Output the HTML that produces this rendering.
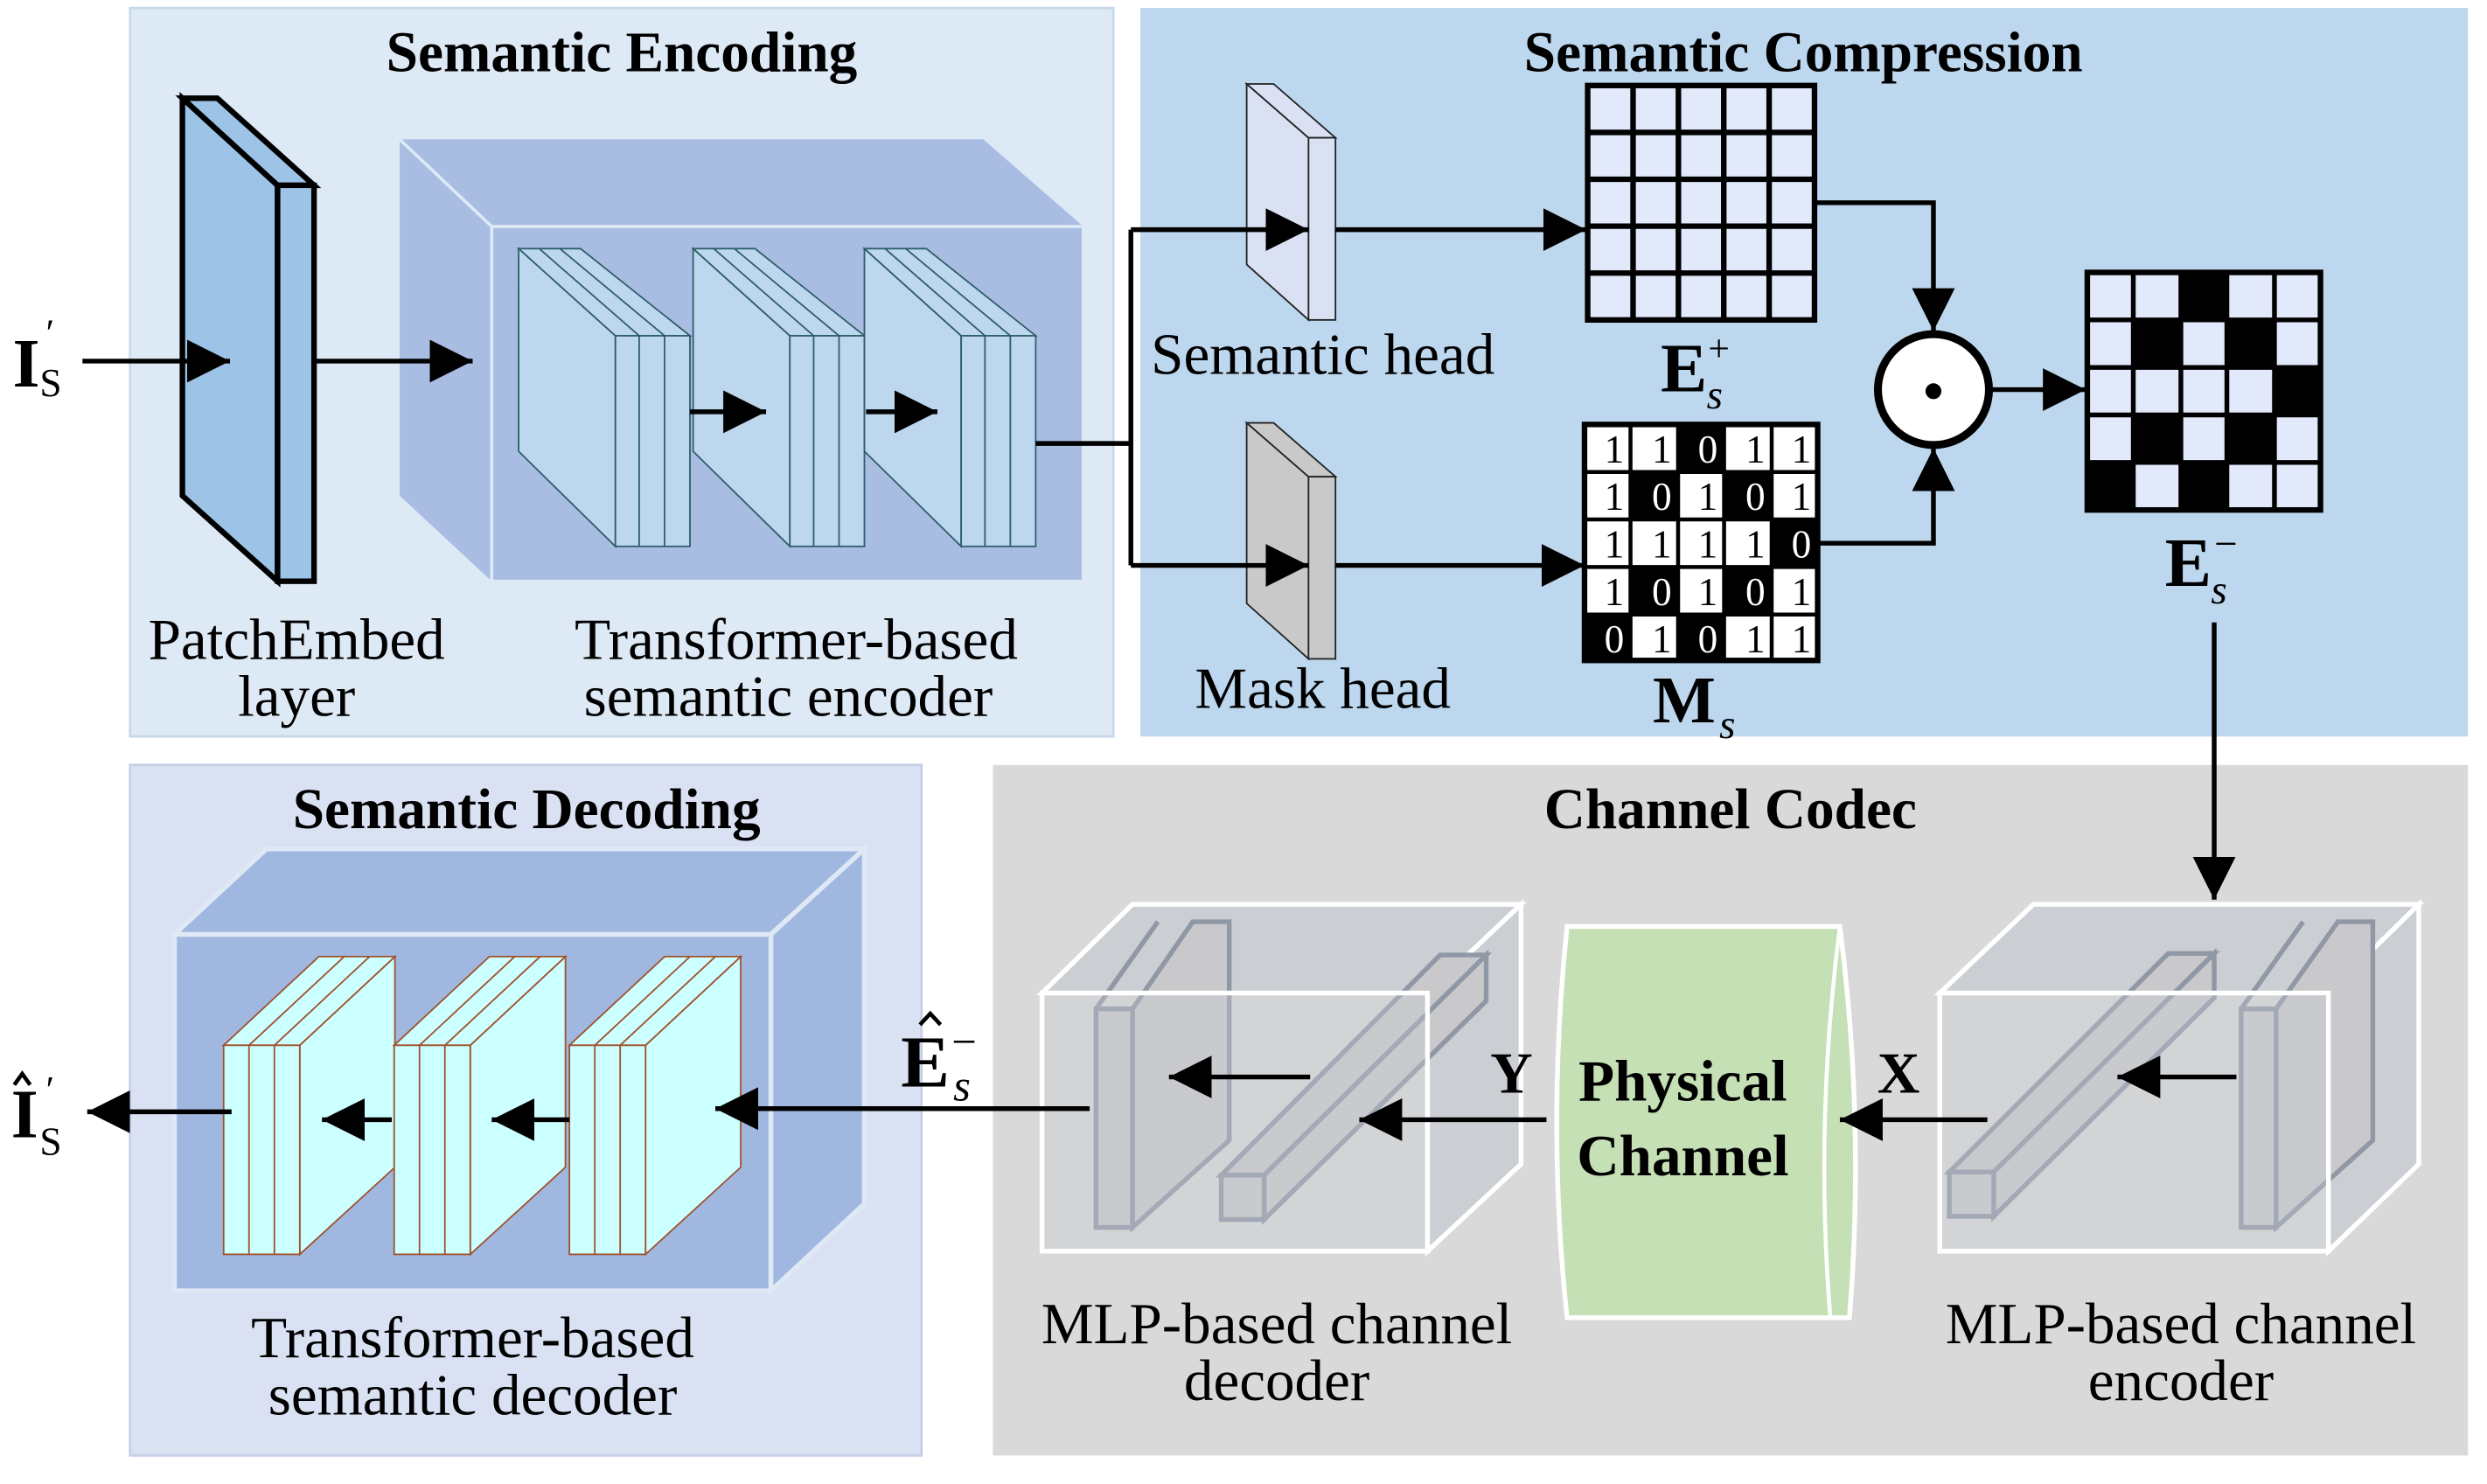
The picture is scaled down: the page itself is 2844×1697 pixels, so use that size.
<!DOCTYPE html>
<html><head><meta charset="utf-8"><style>
html,body{margin:0;padding:0;background:#fff;}
svg{display:block;}
text{font-family:"Liberation Serif",serif;}
.t{font-weight:bold;font-size:36px;text-anchor:middle;}
.l{font-size:37px;text-anchor:middle;}
</style></head><body>
<svg width="2844" height="1697" viewBox="0 0 1568 937" preserveAspectRatio="none" xmlns="http://www.w3.org/2000/svg">
<defs>
<marker id="ah" viewBox="0 0 10 10" refX="10" refY="5" markerWidth="9" markerHeight="9" orient="auto"><path d="M0,0L10,5L0,10z"/></marker>
<g id="eblk" stroke="#2f5f6a" stroke-width="1" fill="#bdd7ee">
<polygon points="327,157 388,212 388,345 327,285"/>
<polygon points="327,157 366,157 435,212 388,212"/>
<line x1="340" y1="157" x2="403" y2="212"/><line x1="353" y1="157" x2="419" y2="212"/>
<rect x="388" y="212" width="47" height="133"/>
<line x1="403" y1="212" x2="403" y2="345"/><line x1="419" y1="212" x2="419" y2="345"/>
</g>
<g id="dblk" stroke="#a0522d" stroke-width="1" fill="#ccffff">
<polygon points="189,660 249,604 249,737 189,792"/>
<polygon points="141,660 201,604 249,604 189,660"/>
<line x1="157" y1="660" x2="217" y2="604"/><line x1="173" y1="660" x2="233" y2="604"/>
<rect x="141" y="660" width="48" height="132"/>
<line x1="157" y1="660" x2="157" y2="792"/><line x1="173" y1="660" x2="173" y2="792"/>
</g>
</defs>

<!-- panels -->
<rect x="82" y="5" width="620" height="460" fill="#dde9f5" stroke="#c9d8ea" stroke-width="1.5"/>
<rect x="719" y="5" width="837" height="460" fill="#bdd7ee"/>
<rect x="82" y="483" width="499" height="436" fill="#dae1f3" stroke="#c5cfe8" stroke-width="1.5"/>
<rect x="626" y="483" width="930" height="436" fill="#d9d9d9"/>

<text class="t" x="392" y="45">Semantic Encoding</text>
<text class="t" x="1137" y="45">Semantic Compression</text>
<text class="t" x="332" y="523">Semantic Decoding</text>
<text class="t" x="1091" y="523">Channel Codec</text>

<!-- input -->
<text x="8" y="244" font-size="44" font-weight="bold">I</text>
<text x="25" y="250" font-size="25">S</text>
<text x="29" y="218" font-size="24">′</text>

<!-- patch embed -->
<g stroke="#000" stroke-width="3.5" fill="#9dc3e6">
<polygon points="115,62 175,117 175,367 115,313"/>
<polygon points="115,62 137,62 198,117 175,117"/>
<rect x="175" y="117" width="23" height="250"/>
</g>

<!-- encoder cube -->
<polygon points="252,88 620,88 683,143 310,143" fill="#a9bde3"/>
<polygon points="252,88 310,143 310,367 252,313" fill="#a9bde3"/>
<line x1="252" y1="88" x2="310" y2="143" stroke="#dde9f5" stroke-width="2"/>
<rect x="310" y="143" width="373" height="224" fill="#a9bde3" stroke="#dde9f5" stroke-width="2"/>
<use href="#eblk"/><use href="#eblk" x="110"/><use href="#eblk" x="218"/>
<g stroke="#000" stroke-width="3" marker-end="url(#ah)">
<line x1="52" y1="228" x2="145" y2="228"/>
<line x1="198" y1="228" x2="298" y2="228"/>
<line x1="435" y1="260" x2="483" y2="260"/>
<line x1="546" y1="260" x2="591" y2="260"/>
</g>
<line x1="653" y1="280" x2="713" y2="280" stroke="#000" stroke-width="3"/>
<line x1="713" y1="145" x2="713" y2="357" stroke="#000" stroke-width="3"/>

<text class="l" x="187" y="416">PatchEmbed</text>
<text class="l" x="187" y="452">layer</text>
<text class="l" x="502" y="416">Transformer-based</text>
<text class="l" x="497" y="452">semantic encoder</text>

<!-- heads -->
<g stroke="#222" stroke-width="1" fill="#dae1f3">
<polygon points="786,53 825,87 825,202 786,167"/><polygon points="786,53 803,53 842,87 825,87"/><rect x="825" y="87" width="17" height="115"/>
</g>
<g stroke="#222" stroke-width="1" fill="#c9c9c9">
<polygon points="786,267 825,301 825,416 786,381"/><polygon points="786,267 803,267 842,301 825,301"/><rect x="825" y="301" width="17" height="115"/>
</g>
<g stroke="#000" stroke-width="3" marker-end="url(#ah)">
<line x1="713" y1="145" x2="825" y2="145"/><line x1="842" y1="145" x2="1000" y2="145"/>
<line x1="713" y1="357" x2="825" y2="357"/><line x1="842" y1="357" x2="999" y2="357"/>
</g>
<text class="l" x="834" y="236" font-size="36">Semantic head</text>
<text class="l" x="834" y="447" font-size="36">Mask head</text>

<!-- E+ grid -->
<g stroke="#000" stroke-width="3.5" fill="#e2e9fb">
<rect x="1001" y="54" width="143" height="148"/>
<path d="M1029.6,54V202M1058.2,54V202M1086.8,54V202M1115.4,54V202M1001,83.6H1144M1001,113.2H1144M1001,142.8H1144M1001,172.4H1144" fill="none"/>
</g>
<text x="1047" y="247" font-size="44" font-weight="bold">E</text>
<text x="1076" y="258" font-size="26" font-style="italic">s</text>
<text x="1077" y="228" font-size="24">+</text>

<!-- M grid -->
<rect x="999" y="268" width="147" height="149" fill="#fff" stroke="#000" stroke-width="3.5"/>
<g fill="#000">
<rect x="1058" y="268" width="29" height="30"/>
<rect x="1028" y="298" width="30" height="30"/><rect x="1087" y="298" width="30" height="30"/>
<rect x="1117" y="328" width="29" height="30"/>
<rect x="1028" y="358" width="30" height="30"/><rect x="1087" y="358" width="30" height="30"/>
<rect x="999" y="388" width="29" height="29"/><rect x="1058" y="388" width="29" height="29"/>
</g>
<path d="M1028,268V417M1058,268V417M1087,268V417M1117,268V417M999,298H1146M999,328H1146M999,358H1146M999,388H1146" stroke="#000" stroke-width="2.5" fill="none"/>
<g font-size="25" text-anchor="end">
<text x="1024" y="292">1</text><text x="1054" y="292">1</text><text x="1083" y="292" style="fill:#fff">0</text><text x="1113" y="292">1</text><text x="1142" y="292">1</text>
<text x="1024" y="322">1</text><text x="1054" y="322" style="fill:#fff">0</text><text x="1083" y="322">1</text><text x="1113" y="322" style="fill:#fff">0</text><text x="1142" y="322">1</text>
<text x="1024" y="352">1</text><text x="1054" y="352">1</text><text x="1083" y="352">1</text><text x="1113" y="352">1</text><text x="1142" y="352" style="fill:#fff">0</text>
<text x="1024" y="382">1</text><text x="1054" y="382" style="fill:#fff">0</text><text x="1083" y="382">1</text><text x="1113" y="382" style="fill:#fff">0</text><text x="1142" y="382">1</text>
<text x="1024" y="412" style="fill:#fff">0</text><text x="1054" y="412">1</text><text x="1083" y="412" style="fill:#fff">0</text><text x="1113" y="412">1</text><text x="1142" y="412">1</text>
</g>
<text x="1042" y="456" font-size="42" font-weight="bold">M</text>
<text x="1084" y="466" font-size="26" font-style="italic">s</text>

<!-- odot -->
<polyline points="1144,128 1219,128 1219,209" fill="none" stroke="#000" stroke-width="3" marker-end="url(#ah)"/>
<polyline points="1146,343 1219,343 1219,283" fill="none" stroke="#000" stroke-width="3" marker-end="url(#ah)"/>
<circle cx="1219" cy="246" r="35" fill="#fff" stroke="#000" stroke-width="5"/>
<circle cx="1219" cy="247" r="5" fill="#000"/>
<line x1="1254" y1="246" x2="1315" y2="246" stroke="#000" stroke-width="3" marker-end="url(#ah)"/>

<!-- E- grid -->
<rect x="1316" y="172" width="147" height="150" fill="#e2e9fb" stroke="#000" stroke-width="3.5"/>
<g fill="#000">
<rect x="1375" y="172" width="29" height="30"/>
<rect x="1345" y="202" width="30" height="30"/><rect x="1404" y="202" width="30" height="30"/>
<rect x="1434" y="232" width="29" height="30"/>
<rect x="1345" y="262" width="30" height="30"/><rect x="1404" y="262" width="30" height="30"/>
<rect x="1316" y="292" width="29" height="30"/><rect x="1375" y="292" width="29" height="30"/>
</g>
<path d="M1345,172V322M1375,172V322M1404,172V322M1434,172V322M1316,202H1463M1316,232H1463M1316,262H1463M1316,292H1463" stroke="#000" stroke-width="3" fill="none"/>
<text x="1365" y="370" font-size="44" font-weight="bold">E</text>
<text x="1394" y="381" font-size="26" font-style="italic">s</text>
<text x="1396" y="352" font-size="26">−</text>
<line x1="1396" y1="393" x2="1396" y2="568" stroke="#000" stroke-width="3" marker-end="url(#ah)"/>

<!-- Channel codec: encoder cube -->
<g stroke="#fff" stroke-width="3" fill="#c8cbd0" fill-opacity="0.85">
<polygon points="1223,627 1282,571 1525,571 1468,627"/>
<polygon points="1468,627 1525,571 1525,735 1468,790"/>
</g>
<g stroke="#9098a6" stroke-width="3" fill="#c9c9cc">
<polygon points="1435,637 1474,582 1496,582 1496,720 1435,775"/>
<rect x="1413" y="637" width="22" height="138"/>
<line x1="1413" y1="637" x2="1452" y2="582"/>
<polygon points="1229,740 1367,602 1396,602 1257,740"/>
<polygon points="1257,740 1396,602 1396,630 1257,768"/>
<rect x="1229" y="740" width="28" height="28"/>
</g>
<rect x="1223" y="627" width="245" height="163" fill="#c8cbd0" fill-opacity="0.35" stroke="#fff" stroke-width="3"/>
<line x1="1410" y1="680" x2="1335" y2="680" stroke="#000" stroke-width="3" marker-end="url(#ah)"/>

<!-- decoder cube -->
<g stroke="#fff" stroke-width="3" fill="#c8cbd0" fill-opacity="0.85">
<polygon points="657,627 714,571 959,571 900,627"/>
<polygon points="900,627 959,571 959,735 900,790"/>
</g>
<g stroke="#9098a6" stroke-width="3" fill="#c9c9cc">
<polygon points="714,637 752,582 775,582 775,720 714,775"/>
<rect x="691" y="637" width="23" height="138"/>
<line x1="691" y1="637" x2="730" y2="582"/>
<polygon points="770,742 908,603 937,603 797,742"/>
<polygon points="797,742 937,603 937,632 797,770"/>
<rect x="770" y="742" width="27" height="28"/>
</g>
<rect x="657" y="627" width="243" height="163" fill="#c8cbd0" fill-opacity="0.35" stroke="#fff" stroke-width="3"/>
<line x1="826" y1="680" x2="737" y2="680" stroke="#000" stroke-width="3" marker-end="url(#ah)"/>

<!-- physical channel -->
<path d="M988,585 L1160,585 Q1176,710 1166,832 L988,832 Q975,710 988,585 Z" fill="#c5e0b4" stroke="#fff" stroke-width="3"/>
<path d="M1160,585 Q1144,710 1154,832" fill="none" stroke="#fff" stroke-width="2.5"/>
<text x="1061" y="695" font-size="37" font-weight="bold" text-anchor="middle">Physical</text>
<text x="1061" y="742" font-size="37" font-weight="bold" text-anchor="middle">Channel</text>
<text x="1197" y="690" font-size="37" font-weight="bold" text-anchor="middle">X</text>
<text x="953" y="690" font-size="37" font-weight="bold" text-anchor="middle">Y</text>
<line x1="1253" y1="707" x2="1160" y2="707" stroke="#000" stroke-width="3" marker-end="url(#ah)"/>
<line x1="975" y1="707" x2="857" y2="707" stroke="#000" stroke-width="3" marker-end="url(#ah)"/>

<text class="l" x="805" y="848">MLP-based channel</text>
<text class="l" x="805" y="884">decoder</text>
<text class="l" x="1375" y="848">MLP-based channel</text>
<text class="l" x="1375" y="884">encoder</text>

<!-- decoding cube -->
<g fill="#a0b8e0" stroke="#dfe8f5" stroke-width="3">
<polygon points="110,590 168,536 545,536 486,590"/>
<polygon points="486,590 545,536 545,760 486,815"/>
<rect x="110" y="590" width="376" height="225"/>
</g>
<use href="#dblk"/><use href="#dblk" x="107.5"/><use href="#dblk" x="218"/>
<g stroke="#000" stroke-width="3" marker-end="url(#ah)">
<line x1="687" y1="700" x2="451" y2="700"/>
<line x1="247" y1="707" x2="203" y2="707"/>
<line x1="359" y1="707" x2="310" y2="707"/>
<line x1="146" y1="702" x2="55" y2="702"/>
</g>
<text class="l" x="298" y="857">Transformer-based</text>
<text class="l" x="298" y="893">semantic decoder</text>

<!-- Ê label -->
<text x="568" y="686" font-size="46" font-weight="bold">E</text>
<path d="M580,647 L586.5,640 L593,647" fill="none" stroke="#000" stroke-width="2.5"/>
<text x="601" y="695" font-size="28" font-style="italic">s</text>
<text x="600" y="667" font-size="28">−</text>

<!-- output Î -->
<text x="7" y="718" font-size="44" font-weight="bold">I</text>
<path d="M9,685 L14,678 L19,685" fill="none" stroke="#000" stroke-width="2.5"/>
<text x="25" y="729" font-size="25">S</text>
<text x="29" y="696" font-size="24">′</text>
</svg>
</body></html>
